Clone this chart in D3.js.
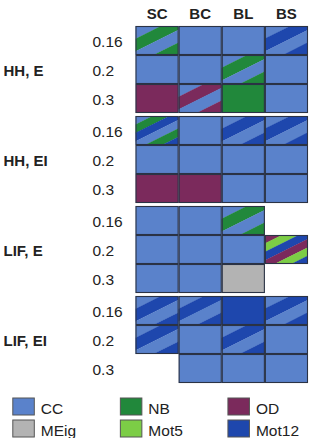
<!DOCTYPE html>
<html>
<head>
<meta charset="utf-8">
<script src="https://cdn.jsdelivr.net/npm/d3@7"></script>
<style>
  body { margin: 0; background: #fff; }
  svg { display: block; font-family: "Liberation Sans", Arial, sans-serif; }
</style>
</head>
<body>
<div id="chart"></div>
<script>
const columns = ['SC', 'BC', 'BL', 'BS'];
const groups = ['HH, E', 'HH, EI', 'LIF, E', 'LIF, EI'];
const rates = ['0.16', '0.2', '0.3'];
const classes = ['CC', 'NB', 'OD', 'MEig', 'Mot5', 'Mot12'];
const classColors = ['#5a82cb', '#21883b', '#7b2a5c', '#b3b3b3', '#7ccd46', '#1e47ad'];

// winning classes per cell: group -> rate row -> column ([] = no cell)
const hhE = [
  [['CC', 'NB'], ['CC'], ['CC'], ['CC', 'Mot12']],
  [['CC'], ['CC'], ['CC', 'NB'], ['CC']],
  [['OD'], ['CC', 'OD'], ['NB'], ['CC']]
];
const hhEI = [
  [['CC', 'NB', 'Mot12'], ['CC'], ['CC', 'Mot12'], ['CC', 'Mot12']],
  [['CC'], ['CC'], ['CC'], ['CC']],
  [['OD'], ['OD'], ['CC'], ['CC']]
];
const lifE = [
  [['CC'], ['CC'], ['CC', 'NB'], []],
  [['CC'], ['CC'], ['CC'], ['OD', 'Mot5', 'Mot12']],
  [['CC'], ['CC'], ['MEig'], []]
];
const lifEI = [
  [['CC', 'Mot12'], ['CC', 'Mot12'], ['Mot12'], ['CC', 'Mot12']],
  [['CC', 'Mot12'], ['CC'], ['CC', 'Mot12'], ['CC']],
  [[], ['CC'], ['CC'], ['CC']]
];
const groupCells = [hhE, hhEI, lifE, lifEI];

const legendRows = [['CC', 'NB', 'OD'], ['MEig', 'Mot5', 'Mot12']];

const width = 311, height = 438;
const color = d3.scaleOrdinal().domain(classes).range(classColors);

const svg = d3.select('#chart').append('svg')
  .attr('width', width)
  .attr('height', height);

const x = d3.scaleBand().domain(columns).range([135.5, 308]);
const gy = d3.scaleBand().domain(groups).range([26, 383]).paddingInner(3 / 90);
const ry = d3.scaleBand().domain(rates).range([0, gy.bandwidth()]);

// column headers
svg.append('g').selectAll('text')
  .data(columns)
  .enter().append('text')
  .attr('x', d => x(d) + x.bandwidth() / 2)
  .attr('y', 18.5)
  .attr('text-anchor', 'middle')
  .attr('font-weight', 'bold')
  .attr('font-size', 15)
  .attr('fill', '#222')
  .text(d => d);

const cells = [];
groups.forEach((g, gi) => {
  rates.forEach((r, ri) => {
    columns.forEach((c, ci) => {
      const win = groupCells[gi][ri][ci];
      if (win.length) cells.push({group: g, rate: r, col: c, win: win, id: `c${gi}${ri}${ci}`});
    });
  });
});

const defs = svg.append('defs');
const w = x.bandwidth(), h = ry.bandwidth();
const slope = 0.5;
defs.append('clipPath').attr('id', 'cellclip')
  .append('rect').attr('width', w).attr('height', h);

const cellG = svg.append('g').selectAll('g')
  .data(cells)
  .enter().append('g')
  .attr('transform', d => `translate(${x(d.col)},${gy(d.group) + ry(d.rate)})`);

cellG.each(function(d) {
  const g = d3.select(this).append('g').attr('clip-path', 'url(#cellclip)');
  const n = d.win.length;
  if (n === 1) {
    g.append('rect').attr('width', w).attr('height', h).attr('fill', color(d.win[0]));
    return;
  }
  const total = slope * w + h;
  const k = 2 * n;
  const stripes = d3.range(k).map(i => ({d0: total * i / k, d1: total * (i + 1) / k, cls: d.win[i % n]}));
  g.selectAll('polygon')
    .data(stripes)
    .enter().append('polygon')
    .attr('points', s => [
      [-1, s.d0 + slope], [w + 1, s.d0 - slope * (w + 1)],
      [w + 1, s.d1 - slope * (w + 1) + 0.3], [-1, s.d1 + slope + 0.3]
    ].map(p => p.join(',')).join(' '))
    .attr('fill', s => color(s.cls));
});

cellG.append('rect')
  .attr('x', 0.5).attr('y', 0.5)
  .attr('width', w - 1).attr('height', h - 1)
  .attr('fill', 'none')
  .attr('stroke', '#2b3345')
  .attr('stroke-width', 1.1);

// row labels
groups.forEach(g => {
  svg.append('g').selectAll('text')
    .data(rates)
    .enter().append('text')
    .attr('x', 92.5)
    .attr('y', d => gy(g) + ry(d) + ry.bandwidth() / 2 + 6)
    .attr('font-size', 15.5)
    .attr('fill', '#222')
    .text(d => d);
});

// group labels
svg.append('g').selectAll('text')
  .data(groups)
  .enter().append('text')
  .attr('x', 3.5)
  .attr('y', d => gy(d) + ry('0.2') + ry.bandwidth() / 2 + 6.5)
  .attr('font-weight', 'bold')
  .attr('font-size', 15)
  .attr('fill', '#222')
  .text(d => d);

// legend
const lx = d3.scaleBand().domain([0, 1, 2]).range([12.3, 335]);
const ly = d3.scaleBand().domain([0, 1]).range([397.5, 441.5]);
const legendItems = [];
legendRows.forEach((row, ri) => row.forEach((cls, ci) => legendItems.push({cls, ri, ci})));

const leg = svg.append('g').selectAll('g')
  .data(legendItems)
  .enter().append('g')
  .attr('transform', d => `translate(${lx(d.ci)},${ly(d.ri)})`);

leg.append('rect')
  .attr('x', 0.5).attr('y', 0.5)
  .attr('width', 21.5).attr('height', 17)
  .attr('fill', d => color(d.cls))
  .attr('stroke', '#555')
  .attr('stroke-width', 1);

leg.append('text')
  .attr('x', 28.5)
  .attr('y', 16.5)
  .attr('font-size', 15.5)
  .attr('fill', '#222')
  .text(d => d.cls);
</script>
</body>
</html>
